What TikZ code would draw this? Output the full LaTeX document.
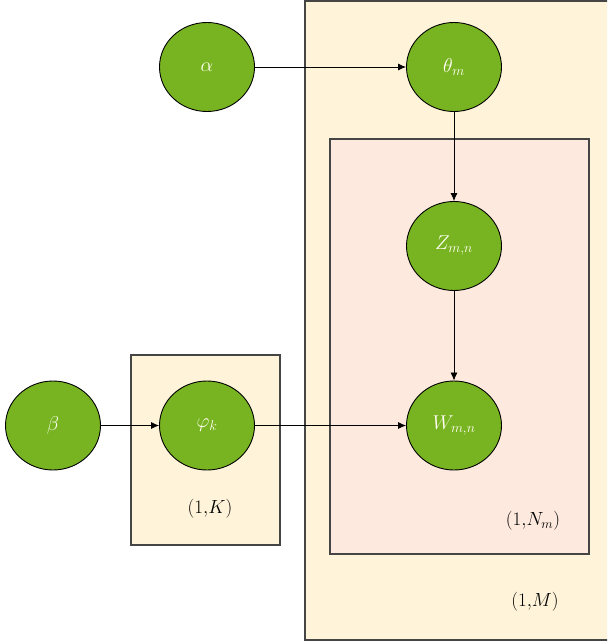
\RequirePackage{fix-cm}
\documentclass[tikz,border=0pt]{standalone}
\usetikzlibrary{arrows.meta,shapes.geometric}
\definecolor{nodegreen}{HTML}{78B422}
\definecolor{creamfill}{HTML}{FFF4D9}
\definecolor{pinkfill}{HTML}{FDE9DD}
\definecolor{frameline}{HTML}{454545}
\tikzset{
  var/.style={ellipse, minimum width=95pt, minimum height=89pt, inner sep=0pt, fill=nodegreen, draw=black, line width=0.9pt, text=white!95!yellow, font=\fontsize{20}{22}\selectfont},
  plate/.style={draw=frameline, line width=1.4pt},
  link/.style={-{Latex[length=8pt,width=7pt]}, line width=0.8pt},
  platelabel/.style={font=\fontsize{19}{21}\selectfont}
}
\begin{document}
\begin{tikzpicture}[x=1pt,y=-1pt]
\useasboundingbox (0,0) rectangle (607,644);
\clip (0,0) rectangle (607,644);
% plates
\draw[plate, fill=creamfill] (305,1) rectangle (620,640);
\draw[plate, fill=pinkfill] (330,139) rectangle (589,554);
\draw[plate, fill=creamfill] (131,355) rectangle (280,545);
% labels
\node[platelabel] (lk) at (210,509) {$(1{,}K)$};
\node[platelabel] (ln) at (533,521) {$(1{,}N_m)$};
\node[platelabel] (lm) at (535,602) {$(1{,}M)$};
% variables
\node[var] (alpha) at (207,67) {$\alpha$};
\node[var] (theta) at (454,67) {$\theta_m$};
\node[var] (z) at (454,246) {$Z_{m,n}$};
\node[var] (w) at (454,425.5) {$W_{m,n}$};
\node[var] (beta) at (53,425.5) {$\beta$};
\node[var] (phi) at (207,425.5) {$\varphi_k$};
% links
\draw[link] (alpha) -- (theta);
\draw[link] (theta) -- (z);
\draw[link] (z) -- (w);
\draw[link] (beta) -- (phi);
\draw[link] (phi) -- (w);
\end{tikzpicture}
\end{document}
